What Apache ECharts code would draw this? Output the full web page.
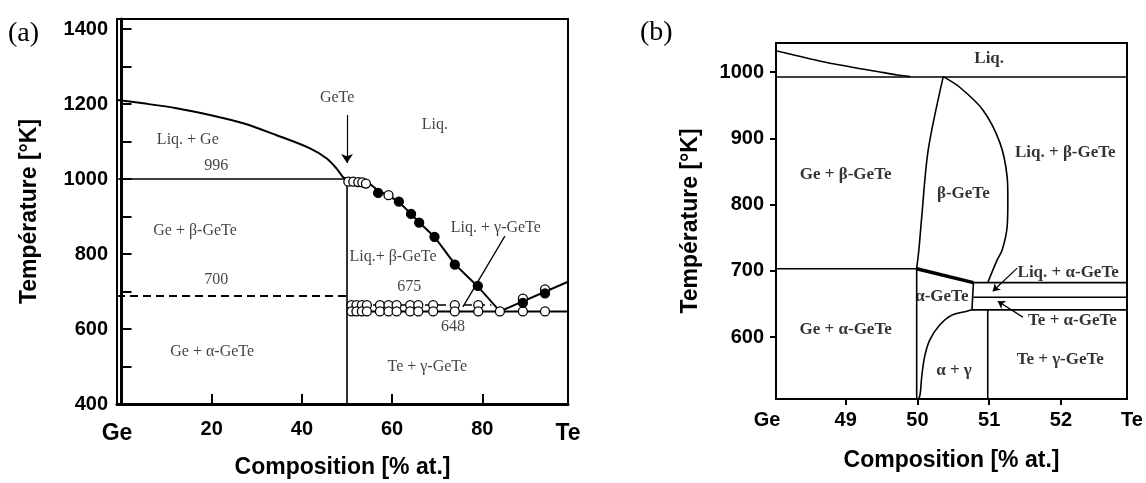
<!DOCTYPE html>
<html>
<head>
<meta charset="utf-8">
<script src="https://cdn.jsdelivr.net/npm/echarts@6/dist/echarts.min.js"></script>
<style>html,body{margin:0;padding:0;background:#fff}#c{width:1146px;height:483px}</style>
</head>
<body>
<div id="c"></div>
<script>
// ---------------- Panel (a) data ----------------
const aXTicks = [20, 40, 60, 80];
const aXLabels = [-1, 20, 40, 60, 80, 99];
const aYTicks = [400, 500, 600, 700, 800, 900, 1000, 1100, 1200, 1300, 1400];
const aYLabels = [400, 600, 800, 1000, 1200, 1400];
const aGeLiquidus = [[-1,1211],[4.8,1202],[12.2,1189],[19.6,1171],[27,1149],[34.4,1117],[41.8,1082],[45.5,1055],[47.7,1028],[49.2,1004],[50,1000]];
const aGeEutectic = [[-1,1000],[50,1000]];
const aAlphaBeta = [[-1,688],[50,688]];
const aGeTeLine = [[50,1000],[50,400]];
const aTeLiquidus = [[50,1000],[51.4,995],[53.4,992],[55,987],[57,969],[59.2,956],[61.5,938],[64.2,907],[66,885],[69.4,845],[73.9,774],[79,713],[83.9,647]];
const aTeSide = [[83.9,647],[99,726]];
const aTeEutectic = [[50,647],[99,647]];
const aGammaBeta = [[50,664],[82,664]];
const aOpenUpper = [[51.0,664],[52.1,664],[53.3,664],[54.4,664],[57.3,664],[59.2,664],[61.0,664],[64.0,664],[65.8,664],[69.1,664],[73.9,664],[79.1,664]];
const aOpenLower = [[51.0,647],[52.1,647],[53.3,647],[54.4,647],[57.3,647],[59.2,647],[61.0,647],[64.0,647],[65.8,647],[69.1,647],[73.9,647],[79.1,647],[83.9,647],[89.0,647],[93.9,647]];
const aOpenLiquid = [[50.3,993],[51.4,993],[52.5,992],[53.4,991],[54.2,988],[59.2,957],[89,681],[93.9,706]];
const aFilled = [[56.9,963],[61.5,940],[64.2,907],[66,884],[69.4,846],[73.9,772],[79,715],[89,670],[93.9,695]];
const aPointer = [[85,848],[75.7,659]];
const aArrow = [[50,1171],[50,1043]];
const aLabels = [
  ['Liq. + Ge', 14.7, 1104], ['996', 21, 1035], ['Ge + β-GeTe', 16.3, 861], ['700', 21, 731],
  ['Ge + α-GeTe', 20.1, 539], ['GeTe', 47.8, 1216], ['Liq.', 69.5, 1144], ['Liq. + γ-GeTe', 83, 869],
  ['Liq.+ β-GeTe', 60.2, 792], ['675', 63.8, 712], ['648', 73.5, 605], ['Te + γ-GeTe', 67.8, 499]
];

// ---------------- Panel (b) data ----------------
const bXTicks = [49, 50, 51, 52];
const bXLabels = [48.03, 49, 50, 51, 52, 52.92];
const bYTicks = [600, 700, 800, 900, 1000];
const bLiquidusLeft = [[48.03,1032],[48.75,1014],[49.48,1000],[49.72,995.5],[49.9,993]];
const bLiquidusLine = [[48.03,992.5],[52.92,992.5]];
const bBetaLeft = [[50.36,993],[50.15,882],[50.06,781],[50.02,731],[49.99,704]];
const bBetaRight = [[50.36,993],[50.59,977],[50.91,943],[51.15,893],[51.25,842],[51.26,808],[51.25,766],[51.18,731],[51.11,716],[50.98,682]];
const bAlphaBeta = [[48.03,703],[49.99,703]];
const bAlphaTop = [[49.99,703],[50.78,682]];
const bBandTop = [[50.78,682],[52.92,682]];
const bBandMid = [[50.78,660],[52.92,660]];
const bBandLow = [[50.76,641],[52.92,641]];
const bBandLeft = [[50.78,682],[50.76,641]];
const bGeTeLine = [[49.99,704],[49.99,506.4]];
const bAlphaGamma = [[50.02,506.4],[50.04,515],[50.06,540],[50.10,570],[50.17,595],[50.31,618],[50.48,633],[50.69,639],[50.76,641]];
const b51Line = [[50.98,641],[50.98,506.4]];
const bArrow1 = [[51.39,704],[51.05,669]];
const bArrow2 = [[51.47,630],[51.12,654]];
const bLabels = [
  ['Liq.', 51.0, 1019.6], ['Liq. + β-GeTe', 52.06, 879], ['β-GeTe', 50.64, 816], ['Ge + β-GeTe', 49.0, 845],
  ['Ge + α-GeTe', 49.0, 610.6], ['α-GeTe', 50.34, 660.4], ['Liq. + α-GeTe', 52.1, 696.6],
  ['Te + α-GeTe', 52.16, 624], ['Te + γ-GeTe', 51.99, 565.3], ['α + γ', 50.51, 550]
];

// ---------------- styling / helpers ----------------
const SANS = 'Liberation Sans, Arial, sans-serif';
const SERIF = 'Liberation Serif, Times New Roman, serif';

function line(data, idx, opt) {
  opt = opt || {};
  return {
    type: 'line', xAxisIndex: idx, yAxisIndex: idx, data: data,
    symbol: 'none', showSymbol: false, silent: true, z: 2,
    smooth: opt.smooth || false,
    lineStyle: { color: '#000', width: opt.width || 1.6, type: opt.type || 'solid' }
  };
}
function dots(data, filled, size) {
  return {
    type: 'scatter', xAxisIndex: 0, yAxisIndex: 0, data: data, symbol: 'circle',
    symbolSize: size, silent: true, z: 5,
    itemStyle: { color: filled ? '#000' : '#fff', borderColor: '#000', borderWidth: 1.3, opacity: 1 }
  };
}
function texts(list, idx, style) {
  return {
    type: 'scatter', xAxisIndex: idx, yAxisIndex: idx, silent: true, z: 6,
    symbolSize: 1, itemStyle: { color: 'rgba(0,0,0,0)' },
    data: list.map(l => ({ name: l[0], value: [l[1], l[2]] })),
    label: Object.assign({ show: true, formatter: '{b}', position: 'inside' }, style)
  };
}
function arrow(seg, idx, size) {
  return {
    type: 'line', xAxisIndex: idx, yAxisIndex: idx, data: [], silent: true,
    markLine: {
      silent: true, animation: false, symbol: ['none', 'arrow'], symbolSize: size,
      label: { show: false },
      lineStyle: { color: '#000', width: 1.2, type: 'solid' },
      data: [[{ coord: seg[0] }, { coord: seg[1] }]]
    }
  };
}

const option = {
  animation: false,
  backgroundColor: '#fff',
  grid: [
    { left: 117, top: 19, width: 451, height: 385, show: true, borderColor: '#000', borderWidth: 2, outerBoundsMode: 'none' },
    { left: 776, top: 43, width: 351, height: 356, show: true, borderColor: '#000', borderWidth: 2, outerBoundsMode: 'none' }
  ],
  xAxis: [
    {
      gridIndex: 0, type: 'value', min: -1, max: 99,
      name: 'Composition [% at.]', nameLocation: 'middle', nameGap: 52, nameMoveOverlap: false,
      nameTextStyle: { fontFamily: SANS, fontSize: 23, fontWeight: 'bold', color: '#000' },
      axisLine: { show: true, lineStyle: { color: '#000', width: 3 } },
      axisTick: { show: true, inside: true, length: 10, customValues: aXTicks, lineStyle: { color: '#000', width: 2 } },
      splitLine: { show: false },
      axisLabel: {
        customValues: aXLabels, showMinLabel: true, showMaxLabel: true, margin: 15,
        fontFamily: SANS, fontSize: 20, fontWeight: 'bold', color: '#000',
        formatter: v => v < 0 ? '{big|Ge}' : (v > 98 ? '{big|Te}' : String(v)),
        rich: { big: { fontFamily: SANS, fontSize: 23, fontWeight: 'bold', color: '#000', padding: [3, 0, 0, 0] } }
      }
    },
    {
      gridIndex: 1, type: 'value', min: 48.03, max: 52.92,
      name: 'Composition [% at.]', nameLocation: 'middle', nameGap: 50, nameMoveOverlap: false,
      nameTextStyle: { fontFamily: SANS, fontSize: 23, fontWeight: 'bold', color: '#000' },
      axisLine: { show: true, lineStyle: { color: '#000', width: 2 } },
      axisTick: { show: true, inside: false, length: 6, customValues: bXTicks, lineStyle: { color: '#000', width: 2 } },
      splitLine: { show: false },
      axisLabel: {
        customValues: bXLabels, showMinLabel: true, showMaxLabel: true, margin: 11,
        fontFamily: SANS, fontSize: 20, fontWeight: 'bold', color: '#000',
        formatter: v => v < 48.5 ? '{ge|Ge}' : (v > 52.5 ? '{te|Te}' : String(Math.round(v))),
        rich: {
          ge: { fontFamily: SANS, fontSize: 20, fontWeight: 'bold', color: '#000', padding: [0, 18, 0, 0] },
          te: { fontFamily: SANS, fontSize: 20, fontWeight: 'bold', color: '#000', padding: [0, 0, 0, 10] }
        }
      }
    }
  ],
  yAxis: [
    {
      gridIndex: 0, type: 'value', min: 400, max: 1427,
      name: 'Température [°K]', nameLocation: 'middle', nameGap: 76, nameMoveOverlap: false,
      nameTextStyle: { fontFamily: SANS, fontSize: 23, fontWeight: 'bold', color: '#000' },
      axisLine: { show: true, lineStyle: { color: '#000', width: 3 } },
      axisTick: { show: true, inside: true, length: 10, customValues: aYTicks, lineStyle: { color: '#000', width: 2 } },
      splitLine: { show: false },
      axisLabel: { customValues: aYLabels, margin: 9, formatter: v => String(v), fontFamily: SANS, fontSize: 20, fontWeight: 'bold', color: '#000' }
    },
    {
      gridIndex: 1, type: 'value', min: 506.4, max: 1043.8,
      name: 'Température [°K]', nameLocation: 'middle', nameGap: 74, nameMoveOverlap: false,
      nameTextStyle: { fontFamily: SANS, fontSize: 23, fontWeight: 'bold', color: '#000' },
      axisLine: { show: true, lineStyle: { color: '#000', width: 2 } },
      axisTick: { show: true, inside: false, length: 6, customValues: bYTicks, lineStyle: { color: '#000', width: 2 } },
      splitLine: { show: false },
      axisLabel: { customValues: bYTicks, margin: 12, formatter: v => String(v), fontFamily: SANS, fontSize: 20, fontWeight: 'bold', color: '#000' }
    }
  ],
  graphic: [
    { type: 'text', left: 8, top: 20, style: { text: '(a)', font: '28px ' + SERIF, fill: '#000' } },
    { type: 'text', left: 640, top: 19, style: { text: '(b)', font: '28px ' + SERIF, fill: '#000' } }
  ],
  series: [
    // panel (a)
    line(aGeLiquidus, 0, { smooth: 0.3, width: 2 }),
    line(aGeEutectic, 0, { width: 1.6 }),
    line(aAlphaBeta, 0, { width: 2, type: [8, 5] }),
    line(aGeTeLine, 0, { width: 1.6 }),
    line(aTeLiquidus, 0, { smooth: 0.2, width: 2 }),
    line(aTeSide, 0, { width: 2 }),
    line(aTeEutectic, 0, { width: 2 }),
    line(aGammaBeta, 0, { width: 1.6, type: [8, 5] }),
    line(aPointer, 0, { width: 1.3 }),
    dots(aOpenUpper, false, 9),
    dots(aOpenLower, false, 9),
    dots(aOpenLiquid, false, 9),
    dots(aFilled, true, 9),
    arrow(aArrow, 0, 9),
    texts(aLabels, 0, { fontFamily: SERIF, fontSize: 16, color: '#111' }),
    // panel (b)
    line(bLiquidusLeft, 1, { smooth: 0.2 }),
    line(bLiquidusLine, 1, {}),
    line(bBetaLeft, 1, { smooth: 0.3 }),
    line(bBetaRight, 1, { smooth: 0.3 }),
    line(bAlphaBeta, 1, {}),
    line(bAlphaTop, 1, { width: 3.5 }),
    line(bBandTop, 1, {}),
    line(bBandMid, 1, {}),
    line(bBandLow, 1, {}),
    line(bBandLeft, 1, {}),
    line(bGeTeLine, 1, {}),
    line(bAlphaGamma, 1, { smooth: 0.3 }),
    line(b51Line, 1, {}),
    arrow(bArrow1, 1, 7),
    arrow(bArrow2, 1, 7),
    texts(bLabels, 1, { fontFamily: SERIF, fontSize: 17, fontWeight: 'bold', color: '#000' })
  ]
};

const chart = echarts.init(document.getElementById('c'), null, { renderer: 'canvas' });
chart.setOption(option);
</script>
</body>
</html>
